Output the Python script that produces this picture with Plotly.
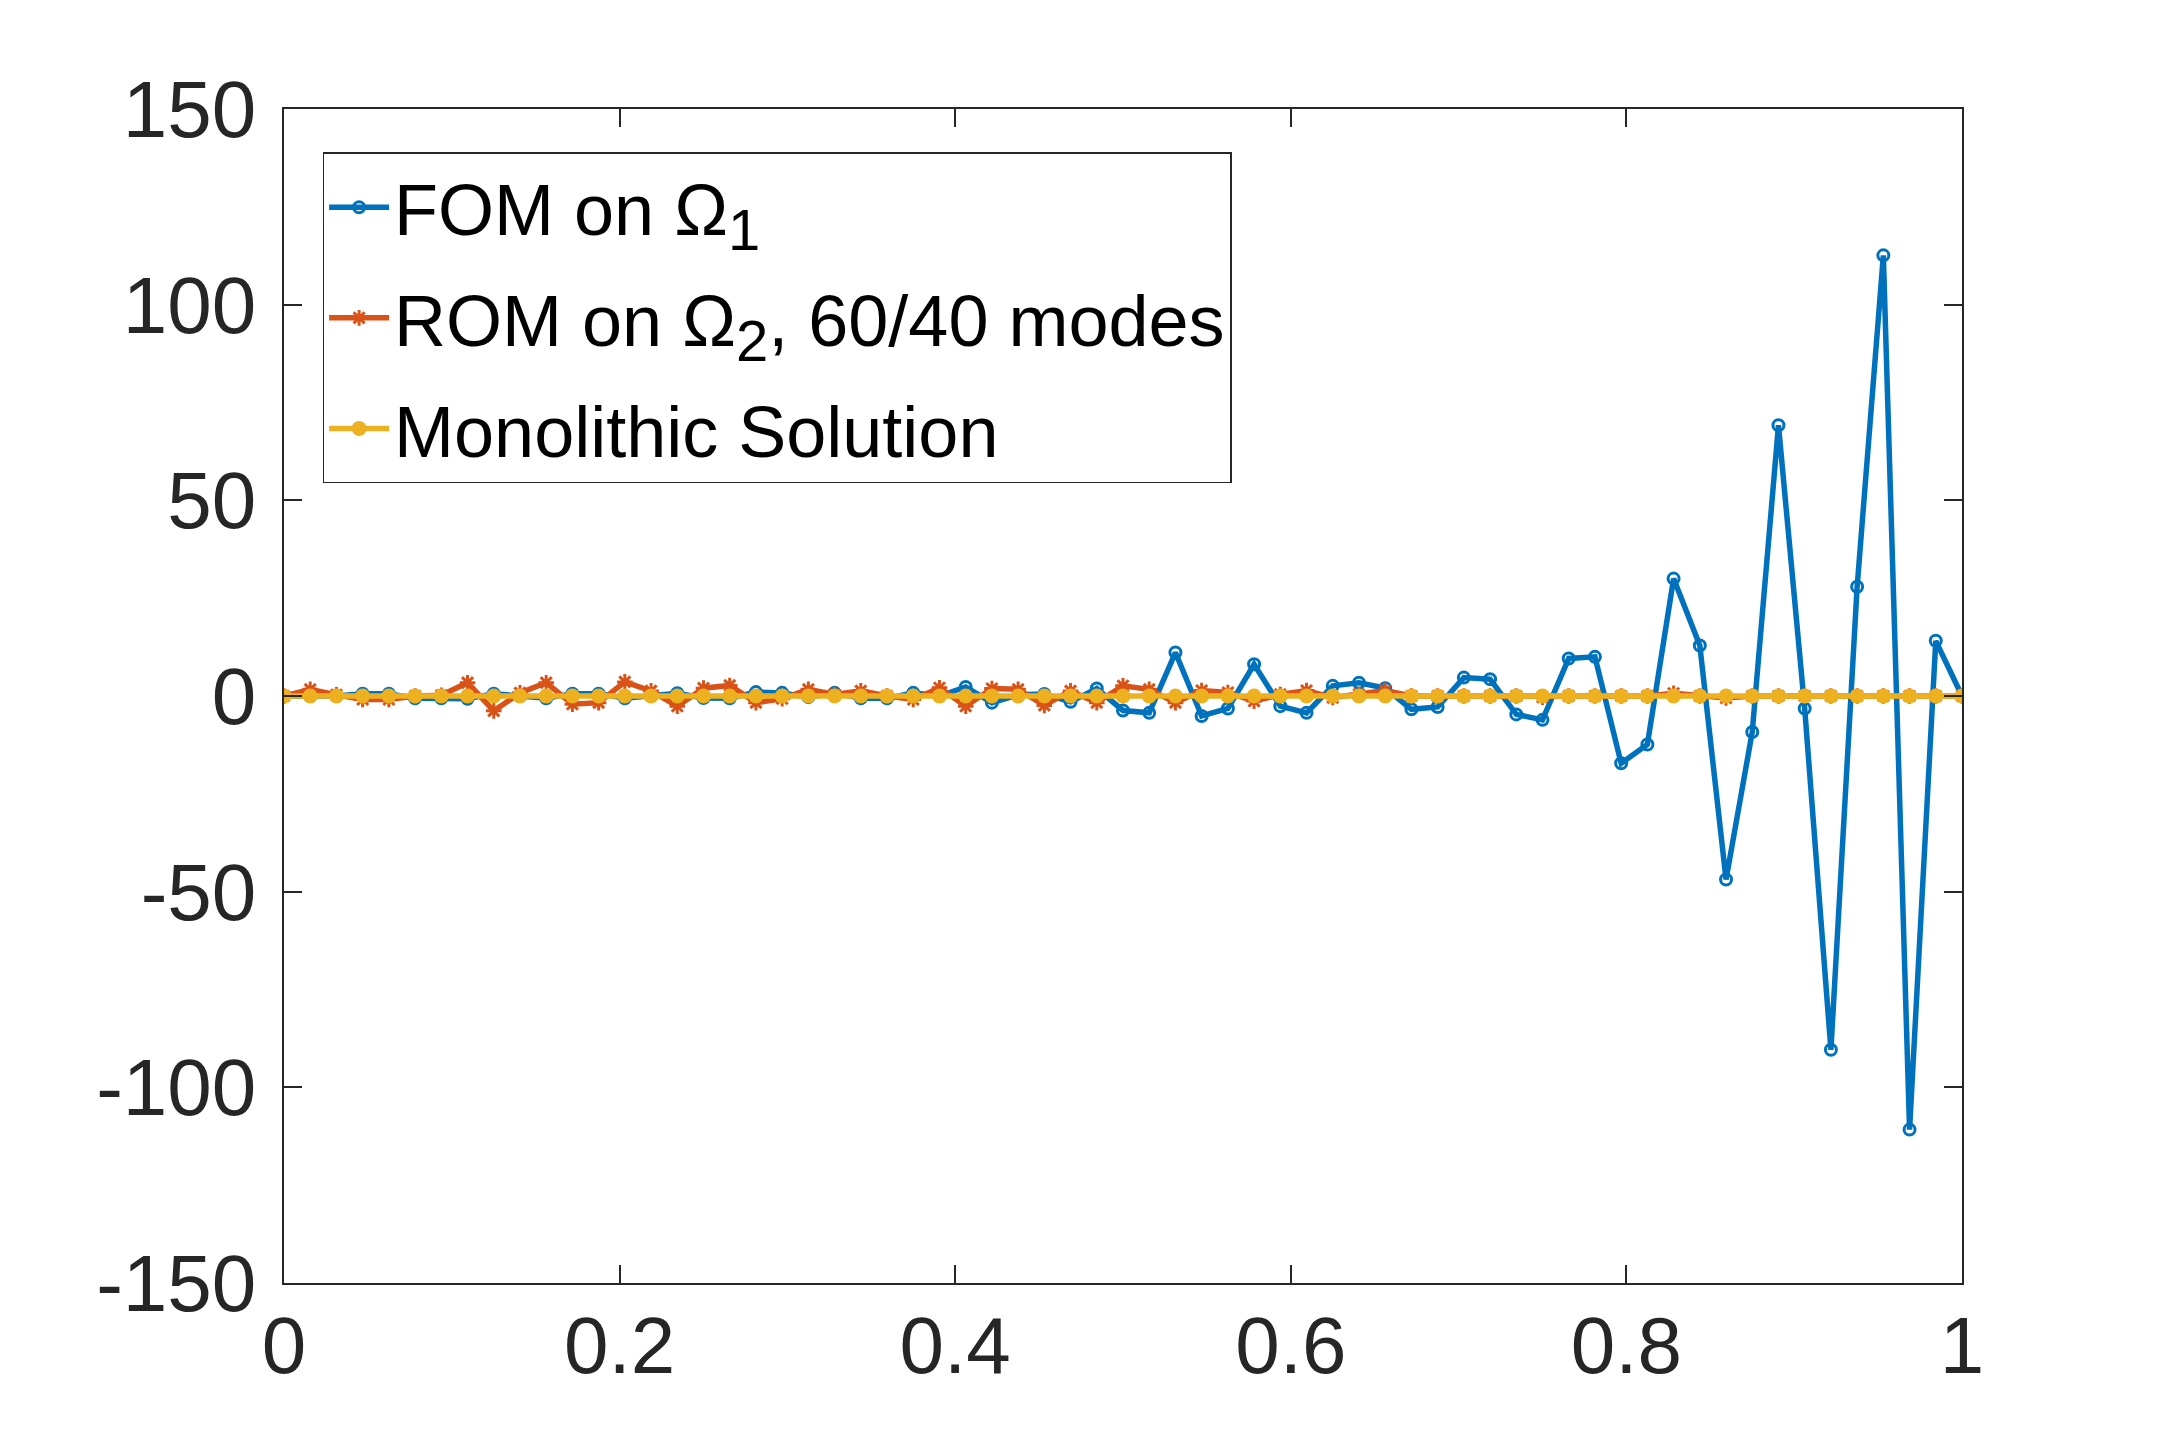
import numpy as np
import plotly.graph_objects as go

# grid: 65 nodes on [0, 1]
x = np.linspace(0, 1, 65)

# FOM on Omega_1 (blue, open circles)
fom = [0, 0, 0, 0.6, 0.6, -0.6, -0.6, -0.7, 0.6, 0, -0.6, 0.6, 0.6, -0.6, 0, 0.7, -0.5,
       -0.6, 1.0, 0.8, -0.3, 0.8, -0.6, -0.6, 0.8, 0, 2.3, -1.7, 0.3, 0.5, -1.5, 1.9,
       -3.7, -4.3, 11.1, -5.1, -3.2, 8.1, -2.6, -4.3, 2.6, 3.4, 2.0, -3.4, -2.8, 4.7, 4.3, -4.7, -6.1,
       9.6, 10.0, -17.2, -12.4, 30.0, 12.9, -46.9, -9.2, 69.2, -3.2, -90.4, 27.9, 112.6, -110.8, 14.1, 0]

# ROM on Omega_2 (orange, asterisks)
rom = [0, 1.7, 0.3, -0.9, -0.9, 0, 0.2, 3.4, -3.8, 0.8, 3.4, -2.1, -1.7, 3.6, 1.3, -2.6, 2.0,
       2.7, -1.7, -0.7, 1.7, 0.4, 1.3, 0, -0.9, 2.1, -2.6, 1.9, 1.7, -2.4, 1.3, -1.7,
       2.6, 1.7, -1.7, 1.4, 0.9, -1.3, 0.4, 1.4, -0.4, 0.4, 1.4, 0,
       0, 0, 0, 0, -0.3, 0, 0, 0, 0, 0.7, 0, -0.5, 0, 0, 0, 0, 0, 0, 0, 0, 0]

# monolithic solution (yellow, filled circles)
mono = [0, 0, 0, 0, 0, 0, 0, 0, 0, 0, 0, 0, 0, 0, 0, 0, 0,
        0, 0, 0, 0, 0, 0, 0, 0, 0, 0, 0, 0, 0, 0, 0,
        0, 0, 0, 0, 0, 0, 0, 0, 0, 0, 0, 0, 0, 0, 0, 0, 0,
        0, 0, 0, 0, 0, 0, 0, 0, 0, 0, 0, 0, 0, 0, 0, 0]

x_ticks = [0, 0.2, 0.4, 0.6, 0.8, 1]
x_labels = ["0", "0.2", "0.4", "0.6", "0.8", "1"]
y_ticks = [-150, -100, -50, 0, 50, 100, 150]
y_labels = ["-150", "-100", "-50", "0", "50", "100", "150"]

SUB = "<sub><span style='font-size:58px'>%s</span></sub>"

fig = go.Figure()

fig.add_trace(go.Scatter(
    x=x, y=fom, mode="lines+markers", name="FOM on Ω" + SUB % "1",
    legendgroup="a",
    line=dict(color="#0072BD", width=5.5),
    marker=dict(symbol="circle-open", size=11, line=dict(width=3, color="#0072BD"))
))
fig.add_trace(go.Scatter(
    x=x, y=rom, mode="lines+markers", name="ROM on Ω" + SUB % "2" + ", 60/40 modes",
    legendgroup="b",
    line=dict(color="#D95319", width=5.5),
    marker=dict(symbol="asterisk-open", size=13, line=dict(width=3, color="#D95319"))
))
fig.add_trace(go.Scatter(
    x=x, y=mono, mode="lines+markers", name="Monolithic Solution",
    legendgroup="c",
    line=dict(color="#EDB120", width=5.5),
    marker=dict(symbol="circle", size=15, color="#EDB120")
))

axis_common = dict(
    showgrid=False, zeroline=False, showline=True, linecolor="#262626", linewidth=1.5,
    mirror="allticks", ticks="inside", ticklen=18, tickwidth=1.5, tickcolor="#262626",
    tickfont=dict(family="Liberation Sans, Arial, sans-serif", size=80, color="#262626"),
)

fig.update_layout(
    width=2164, height=1440,
    paper_bgcolor="white", plot_bgcolor="white",
    margin=dict(l=276, r=210, t=101, b=165),
    showlegend=True,
    legend=dict(
        x=0.023, y=0.963, xanchor="left", yanchor="top",
        bgcolor="white", bordercolor="#262626", borderwidth=1.5,
        font=dict(family="Liberation Sans, Arial, sans-serif", size=72, color="black"),
        itemwidth=60, traceorder="grouped", tracegroupgap=14,
    ),
    xaxis=dict(range=[0, 1], tickvals=x_ticks, ticktext=x_labels,
               ticklabelstandoff=-8, **axis_common),
    yaxis=dict(range=[-150, 150], tickvals=y_ticks, ticktext=y_labels,
               ticklabelstandoff=10, **axis_common),
)

fig.write_html("out.html")
